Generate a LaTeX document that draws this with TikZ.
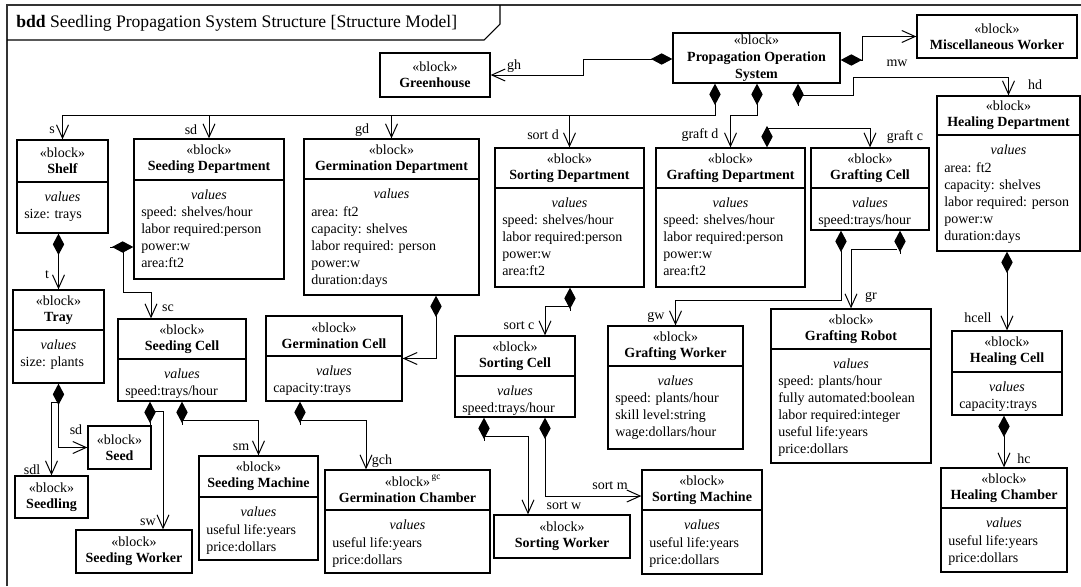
\documentclass[tikz,border=0pt]{standalone}
\usepackage{fontspec}
\setmainfont{Liberation Serif}
\usetikzlibrary{arrows.meta, fit}

\begin{document}
\begin{tikzpicture}[
    x=0.75pt, y=-0.75pt,
    every node/.style={inner sep=0pt, font=\fontsize{10.5}{12.75}\selectfont},
    blk/.style={draw, line width=1pt},
    head/.style={align=center, font=\fontsize{10.5}{12}\selectfont},
    vtitle/.style={font=\fontsize{10.5}{12.75}\selectfont\itshape},
    vlist/.style={align=left, anchor=north west},
    sep/.style={line width=1pt},
    frame/.style={draw=black!80, line width=1.1pt},
    comp/.style={{Diamond[length=16pt, width=8.5pt]}-{Straight Barb[length=10pt, width=9pt]}, line width=0.75pt},
    own/.style={{Diamond[length=16pt, width=8.5pt]}-, line width=0.75pt},
    part/.style={-{Straight Barb[length=10pt, width=9pt]}, line width=0.75pt}
]
    \useasboundingbox (0,0) rectangle (1081,586);

    % Frame and heading
    \draw[frame] (7,586) -- (7,5) -- (1081,5);
    \draw[line width=0.8pt] (7,40) -- (484,40) -- (500,24) -- (500,5);
    \node[anchor=base west, font=\fontsize{13.2}{15}\selectfont] (title) at (16,27) {\textbf{bdd} Seedling Propagation System Structure [Structure Model]};

    % Top level
    \node[blk, fit={(673,33) (840,83)}] (pos) {};
    \node[head, font=\fontsize{10.5}{12.75}\selectfont] (pos-h) at (pos.center) {«block»\\\textbf{Propagation Operation}\\\textbf{System}};
    \node[blk, fit={(380,53) (490,97)}] (greenhouse) {};
    \node[head] (greenhouse-h) at (greenhouse.center) {«block»\\\textbf{Greenhouse}};
    \node[blk, fit={(917,15) (1077,58)}] (miscworker) {};
    \node[head] (miscworker-h) at (miscworker.center) {«block»\\\textbf{Miscellaneous Worker}};

    % Departments
    \node[blk, fit={(17,140) (108,233)}] (shelf) {};
    \node[head] (shelf-h) at (62.5,161) {«block»\\\textbf{Shelf}};
    \draw[sep] (shelf.west |- 0,182) -- (shelf.east |- 0,182);
    \node[vtitle] (shelf-v) at (62.5,197) {values};
    \node[vlist] (shelf-e) at (24,209) {size: trays};

    \node[blk, fit={(134,139) (284,279)}] (seeddept) {};
    \node[head] (seeddept-h) at (209,159.5) {«block»\\\textbf{Seeding Department}};
    \draw[sep] (seeddept.west |- 0,180) -- (seeddept.east |- 0,180);
    \node[vtitle] (seeddept-v) at (209,195) {values};
    \node[vlist] (seeddept-e) at (141,207) {speed: shelves/hour\\labor required:person\\power:w\\area:ft2};

    \node[blk, fit={(304,139) (479,295)}] (germdept) {};
    \node[head] (germdept-h) at (391.5,159) {«block»\\\textbf{Germination Department}};
    \draw[sep] (germdept.west |- 0,179) -- (germdept.east |- 0,179);
    \node[vtitle] (germdept-v) at (391.5,194) {values};
    \node[vlist] (germdept-e) at (311,206) {area: ft2\\capacity: shelves\\labor required: person\\power:w\\duration:days};

    \node[blk, fit={(495,148) (644,287)}] (sortdept) {};
    \node[head] (sortdept-h) at (569.5,168) {«block»\\\textbf{Sorting Department}};
    \draw[sep] (sortdept.west |- 0,188) -- (sortdept.east |- 0,188);
    \node[vtitle] (sortdept-v) at (569.5,203) {values};
    \node[vlist] (sortdept-e) at (502,215) {speed: shelves/hour\\labor required:person\\power:w\\area:ft2};

    \node[blk, fit={(656,148) (805,287)}] (graftdept) {};
    \node[head] (graftdept-h) at (730.5,168) {«block»\\\textbf{Grafting Department}};
    \draw[sep] (graftdept.west |- 0,188) -- (graftdept.east |- 0,188);
    \node[vtitle] (graftdept-v) at (730.5,203) {values};
    \node[vlist] (graftdept-e) at (663,215) {speed: shelves/hour\\labor required:person\\power:w\\area:ft2};

    \node[blk, fit={(811,148) (929,230)}] (graftcell) {};
    \node[head] (graftcell-h) at (870,168) {«block»\\\textbf{Grafting Cell}};
    \draw[sep] (graftcell.west |- 0,188) -- (graftcell.east |- 0,188);
    \node[vtitle] (graftcell-v) at (870,203) {values};
    \node[vlist] (graftcell-e) at (818,215) {speed:trays/hour};

    \node[blk, fit={(937,96) (1080,251)}] (healdept) {};
    \node[head] (healdept-h) at (1008.5,115.5) {«block»\\\textbf{Healing Department}};
    \draw[sep] (healdept.west |- 0,135) -- (healdept.east |- 0,135);
    \node[vtitle] (healdept-v) at (1008.5,150) {values};
    \node[vlist] (healdept-e) at (944,162) {area: ft2\\capacity: shelves\\labor required: person\\power:w\\duration:days};

    % Cells
    \node[blk, fit={(13,290) (104,383)}] (tray) {};
    \node[head] (tray-h) at (58.5,310) {«block»\\\textbf{Tray}};
    \draw[sep] (tray.west |- 0,330) -- (tray.east |- 0,330);
    \node[vtitle] (tray-v) at (58.5,345) {values};
    \node[vlist] (tray-e) at (20,357) {size: plants};

    \node[blk, fit={(118,319) (246,401)}] (seedcell) {};
    \node[head] (seedcell-h) at (182,339) {«block»\\\textbf{Seeding Cell}};
    \draw[sep] (seedcell.west |- 0,359) -- (seedcell.east |- 0,359);
    \node[vtitle] (seedcell-v) at (182,374) {values};
    \node[vlist] (seedcell-e) at (125,386) {speed:trays/hour};

    \node[blk, fit={(266,316) (402,401)}] (germcell) {};
    \node[head] (germcell-h) at (334,336) {«block»\\\textbf{Germination Cell}};
    \draw[sep] (germcell.west |- 0,356) -- (germcell.east |- 0,356);
    \node[vtitle] (germcell-v) at (334,371) {values};
    \node[vlist] (germcell-e) at (273,383) {capacity:trays};

    \node[blk, fit={(455,336) (575,417)}] (sortcell) {};
    \node[head] (sortcell-h) at (515,356) {«block»\\\textbf{Sorting Cell}};
    \draw[sep] (sortcell.west |- 0,376) -- (sortcell.east |- 0,376);
    \node[vtitle] (sortcell-v) at (515,391) {values};
    \node[vlist] (sortcell-e) at (462,403) {speed:trays/hour};

    \node[blk, fit={(608,326) (743,449)}] (graftworker) {};
    \node[head] (graftworker-h) at (675.5,346) {«block»\\\textbf{Grafting Worker}};
    \draw[sep] (graftworker.west |- 0,366) -- (graftworker.east |- 0,366);
    \node[vtitle] (graftworker-v) at (675.5,381) {values};
    \node[vlist] (graftworker-e) at (615,393) {speed: plants/hour\\skill level:string\\wage:dollars/hour};

    \node[blk, fit={(771,309) (931,463)}] (graftrobot) {};
    \node[head] (graftrobot-h) at (851,329) {«block»\\\textbf{Grafting Robot}};
    \draw[sep] (graftrobot.west |- 0,349) -- (graftrobot.east |- 0,349);
    \node[vtitle] (graftrobot-v) at (851,364) {values};
    \node[vlist] (graftrobot-e) at (778,376) {speed: plants/hour\\fully automated:boolean\\labor required:integer\\useful life:years\\price:dollars};

    \node[blk, fit={(952,331) (1062,415)}] (healcell) {};
    \node[head] (healcell-h) at (1007,351.5) {«block»\\\textbf{Healing Cell}};
    \draw[sep] (healcell.west |- 0,372) -- (healcell.east |- 0,372);
    \node[vtitle] (healcell-v) at (1007,387) {values};
    \node[vlist] (healcell-e) at (959,399) {capacity:trays};

    % Bottom row
    \node[blk, fit={(88,426) (151,469)}] (seed) {};
    \node[head] (seed-h) at (seed.center) {«block»\\\textbf{Seed}};
    \node[blk, fit={(15,476) (88,518)}] (seedling) {};
    \node[head] (seedling-h) at (seedling.center) {«block»\\\textbf{Seedling}};
    \node[blk, fit={(76,530) (192,573)}] (seedworker) {};
    \node[head] (seedworker-h) at (seedworker.center) {«block»\\\textbf{Seeding Worker}};
    \node[blk, fit={(494,515) (630,558)}] (sortworker) {};
    \node[head] (sortworker-h) at (sortworker.center) {«block»\\\textbf{Sorting Worker}};

    \node[blk, fit={(199,456) (318,560)}] (seedmachine) {};
    \node[head] (seedmachine-h) at (258.5,476.5) {«block»\\\textbf{Seeding Machine}};
    \draw[sep] (seedmachine.west |- 0,497) -- (seedmachine.east |- 0,497);
    \node[vtitle] (seedmachine-v) at (258.5,512) {values};
    \node[vlist] (seedmachine-e) at (206,524) {useful life:years\\price:dollars};

    \node[blk, fit={(325,470) (490,573)}] (germchamber) {};
    \node[head] (germchamber-h) at (407.5,490) {«block»\\\textbf{Germination Chamber}};
    \draw[sep] (germchamber.west |- 0,510) -- (germchamber.east |- 0,510);
    \node[vtitle] (germchamber-v) at (407.5,525) {values};
    \node[vlist] (germchamber-e) at (332,537) {useful life:years\\price:dollars};
    \node[font=\fontsize{7}{8}\selectfont] (gc) at (436,478) {gc};

    \node[blk, fit={(642,470) (762,574)}] (sortmachine) {};
    \node[head] (sortmachine-h) at (702,490) {«block»\\\textbf{Sorting Machine}};
    \draw[sep] (sortmachine.west |- 0,510) -- (sortmachine.east |- 0,510);
    \node[vtitle] (sortmachine-v) at (702,525) {values};
    \node[vlist] (sortmachine-e) at (649,537) {useful life:years\\price:dollars};

    \node[blk, fit={(941,468) (1067,572)}] (healchamber) {};
    \node[head] (healchamber-h) at (1004,488) {«block»\\\textbf{Healing Chamber}};
    \draw[sep] (healchamber.west |- 0,508) -- (healchamber.east |- 0,508);
    \node[vtitle] (healchamber-v) at (1004,523) {values};
    \node[vlist] (healchamber-e) at (948,535) {useful life:years\\price:dollars};

    % Compositions from the operation system
    \draw[comp] (pos.west |- 0,59) -| (583,75) -- (greenhouse.east);
    \draw[comp] (pos.east |- 0,60) -- (862,60) |- (miscworker.west);
    \draw[comp] (pos.south -| 715,0) -- (715,115) -| (shelf.north);
    \draw[part] (seeddept.north |- 0,115) -- (seeddept.north);
    \draw[part] (germdept.north |- 0,115) -- (germdept.north);
    \draw[part] (sortdept.north |- 0,115) -- (sortdept.north);
    \draw[comp] (pos.south -| 757,0) -- (757,115) -| (graftdept.north);
    \draw[own] (pos.south -| 798,0) -- (798,106);
    \draw[part] (798,95) -- (853,95) -- (853,77) -| (healdept.north);

    % Compositions inside the departments
    \draw[comp] (shelf.south -| tray.north) -- (tray.north);
    \draw[own] (seeddept.west |- 0,247) -- ++(-23,0);
    \draw[part] (123,247) |- (151,292) -- (seedcell.north -| 151,0);
    \draw[own] (tray.south) -- ++(0,23);
    \draw[part] (58.5,401) |- (seed.west);
    \draw[part] (58.5,402) -| (seedling.north);
    \draw[own] (seedcell.south -| 150,0) -- ++(0,23);
    \draw[part] (150,411) -| (seedworker.north -| 163,0);
    \draw[own] (seedcell.south -| 182,0) -- ++(0,23);
    \draw[part] (182,420) -| (seedmachine.north);
    \draw[comp] (germdept.south -| 436,0) |- (germcell.east);
    \draw[own] (germcell.south -| 300,0) -- ++(0,23);
    \draw[part] (300,420) -| (germchamber.north -| 366,0);
    \draw[own] (sortdept.south -| 570,0) -- ++(0,23);
    \draw[part] (570,306) -| (sortcell.north -| 545,0);
    \draw[own] (sortcell.south -| 484,0) -- ++(0,23);
    \draw[part] (484,436) -| (sortworker.north -| 528,0);
    \draw[comp] (sortcell.south -| 545,0) |- (sortmachine.west |- 0,496);
    \draw[comp] (graftdept.north -| 767,0) |- (graftcell.north |- 0,128) -- (graftcell.north);
    \draw[comp] (graftcell.south -| 841,0) |- (graftworker.north |- 0,300) -- (graftworker.north);
    \draw[own] (graftcell.south -| 900,0) -- ++(0,23);
    \draw[part] (897,249) -| (graftrobot.north);
    \draw[comp] (healdept.south -| healcell.north) -- (healcell.north);
    \draw[comp] (healcell.south -| healchamber.north) -- (healchamber.north);

    % Role names
    \node (l-gh) at (514,66) {gh};
    \node (l-mw) at (897,63) {mw};
    \node (l-s) at (52,130) {s};
    \node (l-sd) at (191,130) {sd};
    \node (l-gd) at (362,130) {gd};
    \node (l-sortd) at (543,135) {sort d};
    \node (l-graftd) at (700,135) {graft d};
    \node (l-graftc) at (905,137) {graft c};
    \node (l-hd) at (1035,85) {hd};
    \node (l-t) at (47,275) {t};
    \node (l-sc) at (168,308) {sc};
    \node (l-seed) at (76,430) {sd};
    \node (l-sdl) at (32,470) {sdl};
    \node (l-sw) at (148,522) {sw};
    \node (l-sm) at (241,447) {sm};
    \node (l-gch) at (382,461) {gch};
    \node (l-sortc) at (519,326) {sort c};
    \node (l-gw) at (656,317) {gw};
    \node (l-gr) at (871,297) {gr};
    \node (l-hcell) at (978,318) {hcell};
    \node (l-hc) at (1024,459) {hc};
    \node (l-sortw) at (564,506) {sort w};
    \node (l-sortm) at (610,486) {sort m};
\end{tikzpicture}
\end{document}
